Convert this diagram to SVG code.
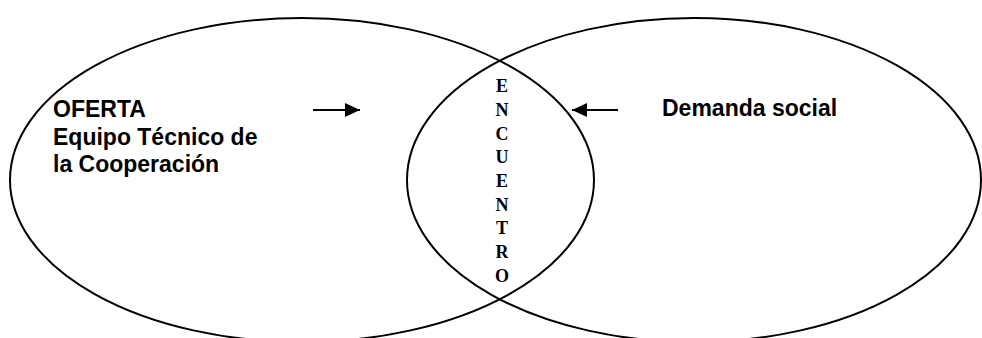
<svg xmlns="http://www.w3.org/2000/svg" width="982" height="338" viewBox="0 0 982 338">
<style>
.ell{fill:none;stroke:#000;stroke-width:2}
.lbl{font-family:"Liberation Sans",Arial,sans-serif;font-weight:bold;font-size:23px;fill:#000}
.v{font-family:"Liberation Serif","Times New Roman",serif;font-weight:bold;font-size:18px;fill:#000;text-anchor:middle}
.arr{stroke:#000;stroke-width:2;fill:none}
</style>
<defs>
<marker id="ah" markerUnits="userSpaceOnUse" markerWidth="16" markerHeight="14" refX="15" refY="7" orient="auto">
<path d="M0,0 L15,7 L0,14 Z" fill="#000"/>
</marker>
</defs>
<rect width="982" height="338" fill="#fff"/>
<g id="oferta">
<ellipse class="ell" cx="302" cy="180" rx="292" ry="162"/>
<text class="lbl" x="53" y="117">OFERTA</text>
<text class="lbl" x="53" y="145">Equipo Técnico de</text>
<text class="lbl" x="53" y="172">la Cooperación</text>
</g>
<g id="demanda">
<ellipse class="ell" cx="694" cy="180" rx="287" ry="162"/>
<text class="lbl" x="662" y="116">Demanda social</text>
</g>
<g id="encuentro">
<text class="v" x="502" y="92">E</text>
<text class="v" x="502" y="116">N</text>
<text class="v" x="502" y="140">C</text>
<text class="v" x="502" y="163">U</text>
<text class="v" x="502" y="187">E</text>
<text class="v" x="502" y="211">N</text>
<text class="v" x="502" y="234">T</text>
<text class="v" x="502" y="258">R</text>
<text class="v" x="502" y="282">O</text>
</g>
<g id="connectors">
<line class="arr" x1="313" y1="110" x2="360" y2="110" marker-end="url(#ah)"/>
<line class="arr" x1="618" y1="110" x2="572" y2="110" marker-end="url(#ah)"/>
</g>
</svg>
